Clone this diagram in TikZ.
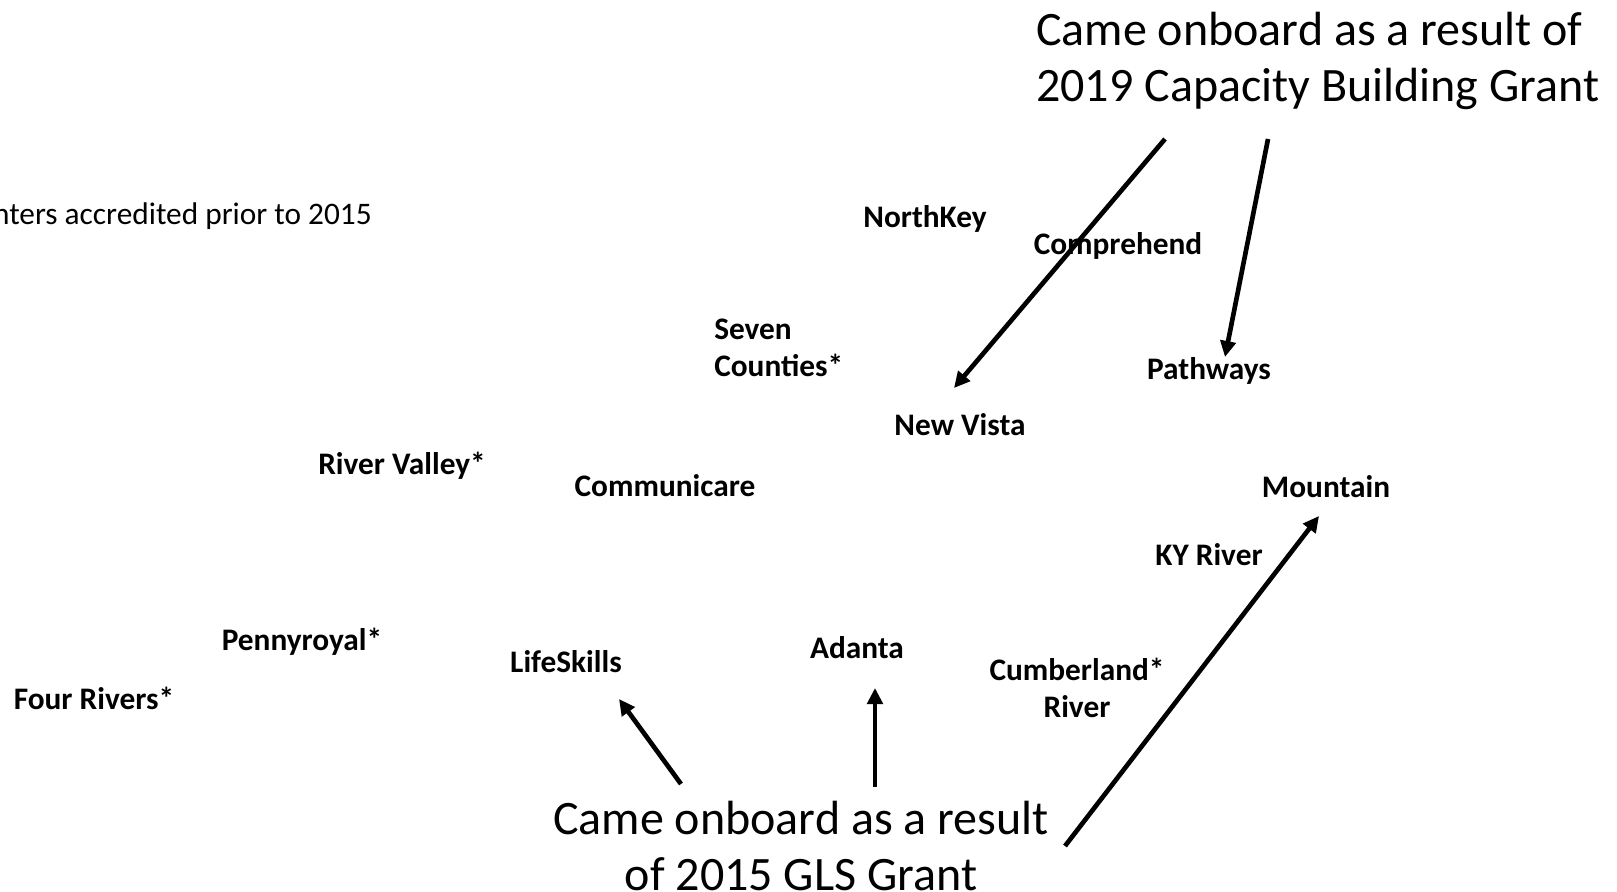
\documentclass[tikz,border=0pt]{standalone}
\usepackage{fontspec}
\setmainfont{Carlito}
\usetikzlibrary{arrows.meta}
\tikzset{
  lbl/.style={font=\fontsize{23.5}{27.75}\selectfont\bfseries, inner sep=0pt, align=center},
  plain/.style={font=\fontsize{23.5}{27.75}\selectfont, inner sep=0pt},
  big/.style={font=\fontsize{36}{42}\selectfont, inner sep=0pt},
  arr/.style={line width=3.5pt, -{Triangle[length=12pt,width=11.5pt]}}
}
\begin{document}
\begin{tikzpicture}[x=0.75pt,y=-0.75pt]
\useasboundingbox (0,0) rectangle (1617,892);
% headings
\node[big, align=left, anchor=north west] (capgrant) at (1036,12) {Came onboard as a result of\\2019 Capacity Building Grant};
\node[big, align=center] (glsgrant) at (801,846) {Came onboard as a result\\of 2015 GLS Grant};
\node[plain, anchor=east] (prior) at (372,216) {nters accredited prior to 2015};
% centers
\node[lbl] (northkey) at (925,219) {NorthKey};
\node[lbl] (comprehend) at (1118,246) {Comprehend};
\node[lbl, align=left, anchor=west] (seven) at (714,348) {Seven\\Counties*};
\node[lbl] (pathways) at (1209,371) {Pathways};
\node[lbl] (newvista) at (960,425) {New Vista};
\node[lbl] (rivervalley) at (402,466) {River Valley*};
\node[lbl] (communicare) at (665,486) {Communicare};
\node[lbl] (mountain) at (1326,487) {Mountain};
\node[lbl] (kyriver) at (1209,555) {KY River};
\node[lbl] (pennyroyal) at (302,642) {Pennyroyal*};
\node[lbl] (lifeskills) at (566,662) {LifeSkills};
\node[lbl] (adanta) at (857,648) {Adanta};
\node[lbl] (cumberland) at (1077,688) {Cumberland*\\River};
\node[lbl] (fourrivers) at (94,698) {Four Rivers*};
% arrow ends
\coordinate (a1s) at (1165,139);
\coordinate (a1e) at (954,388);
\coordinate (a2s) at (1268,139);
\coordinate (a2e) at (1225,357);
\coordinate (a3s) at (681,784);
\coordinate (a3e) at (619,699);
\coordinate (a4s) at (875,787);
\coordinate (a4e) at (875,688);
\coordinate (a5s) at (1065,846);
\coordinate (a5e) at (1319,516);
\draw[arr] (a1s) -- (a1e);
\draw[arr] (a2s) -- (a2e);
\draw[arr] (a3s) -- (a3e);
\draw[arr] (a4s) -- (a4e);
\draw[arr] (a5s) -- (a5e);
\end{tikzpicture}
\end{document}
